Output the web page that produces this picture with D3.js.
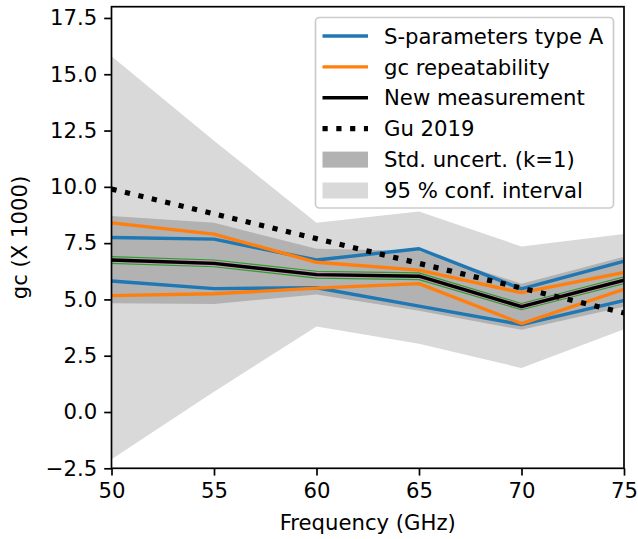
<!DOCTYPE html>
<html><head><meta charset="utf-8">
<script src="https://cdn.jsdelivr.net/npm/d3@7"></script>
<style>body{margin:0;background:#fff}svg{display:block}text{font-family:"DejaVu Sans",sans-serif}</style>
</head><body>
<svg id="c" width="638" height="539"></svg>
<script>
const freqs = [50, 55, 60, 65, 70, 75];
const conf95Upper = [15.8, 12.05, 8.4, 8.9, 7.35, 7.9];
const conf95Lower = [-2.1, 0.9, 3.8, 3.03, 1.95, 3.68];
const stdUpper = [8.7, 8.4, 7.25, 7.15, 5.7, 6.9];
const stdLower = [4.83, 4.8, 5.22, 4.5, 3.65, 4.68];
const sparUpper = [7.75, 7.68, 6.75, 7.25, 5.47, 6.7];
const sparLower = [5.82, 5.48, 5.52, 4.7, 3.88, 4.95];
const repUpper = [8.4, 7.9, 6.65, 6.3, 5.3, 6.2];
const repLower = [5.17, 5.25, 5.5, 5.7, 3.93, 5.45];
const greenUpper = [6.9, 6.75, 6.25, 6.18, 4.82, 6.0];
const greenLower = [6.6, 6.45, 5.95, 5.88, 4.54, 5.7];
const newMeas = [6.75, 6.6, 6.1, 6.03, 4.68, 5.85];
const gu2019 = [9.9, 8.8, 7.7, 6.6, 5.5, 4.4];
const xTicks = [50, 55, 60, 65, 70, 75];
const yTicks = [-2.5, 0, 2.5, 5, 7.5, 10, 12.5, 15, 17.5];
const legendLabels = ["S-parameters type A", "gc repeatability", "New measurement", "Gu 2019", "Std. uncert. (k=1)", "95 % conf. interval"];

const svg = d3.select("#c");
const L = 111.5, R = 624, T = 6.7, B = 468.3;
const x = d3.scaleLinear().domain([50, 75]).range([L, R]);
const y = d3.scaleLinear().domain([-2.5, 18]).range([B, T]);
const fs = 21.2;

svg.append("defs").append("clipPath").attr("id", "clip")
  .append("rect").attr("x", L).attr("y", T).attr("width", R - L).attr("height", B - T);
const g = svg.append("g").attr("clip-path", "url(#clip)");

const area = (up, lo) => d3.area().x((d, i) => x(freqs[i])).y0((d, i) => y(lo[i])).y1((d, i) => y(up[i]))(up);
const line = vals => d3.line().x((d, i) => x(freqs[i])).y(d => y(d))(vals);

g.append("path").attr("d", area(conf95Upper, conf95Lower)).attr("fill", "#d9d9d9");
g.append("path").attr("d", area(stdUpper, stdLower)).attr("fill", "#b2b2b2");

function ln(vals, color, w, dash) {
  const p = g.append("path").attr("d", line(vals)).attr("fill", "none")
    .attr("stroke", color).attr("stroke-width", w).attr("stroke-linejoin", "round").attr("stroke-linecap", dash ? "butt" : "square");
  if (dash) p.attr("stroke-dasharray", dash);
}
ln(sparUpper, "#1f77b4", 3.4);
ln(sparLower, "#1f77b4", 3.4);
ln(repUpper, "#ff7f0e", 3.4);
ln(repLower, "#ff7f0e", 3.4);
ln(greenUpper, "#2ca02c", 1.2);
ln(greenLower, "#2ca02c", 1.2);
ln(newMeas, "#e377c2", 4.2);
ln(newMeas, "#000000", 3.4);
ln(gu2019, "#000000", 5.2, "5.2,8.6");

// axes
const tl = 7.3;
const xAxis = svg.append("g").attr("transform", `translate(0,${B})`)
  .call(d3.axisBottom(x).tickValues(xTicks).tickFormat(d3.format("d")).tickSize(tl).tickPadding(7));
const yAxis = svg.append("g").attr("transform", `translate(${L},0)`)
  .call(d3.axisLeft(y).tickValues(yTicks).tickFormat(d => d3.format(".1f")(d).replace("-", "\u2212")).tickSize(tl).tickPadding(7));
[xAxis, yAxis].forEach(a => {
  a.select(".domain").remove();
  a.selectAll(".tick line").attr("stroke", "#000").attr("stroke-width", 1.7);
  a.selectAll(".tick text").attr("font-size", fs).attr("fill", "#000").attr("font-family", "DejaVu Sans");
});
svg.append("rect").attr("x", L).attr("y", T).attr("width", R - L).attr("height", B - T)
  .attr("fill", "none").attr("stroke", "#000").attr("stroke-width", 1.7);

svg.append("text").attr("x", (L + R) / 2).attr("y", 530).attr("text-anchor", "middle")
  .attr("font-size", fs).text("Frequency (GHz)");
svg.append("text").attr("transform", `translate(27,${(T + B) / 2}) rotate(-90)`).attr("text-anchor", "middle")
  .attr("font-size", fs).text("gc (X 1000)");

// legend
const lg = svg.append("g");
lg.append("rect").attr("x", 315.5).attr("y", 17.5).attr("width", 298).attr("height", 190.5).attr("rx", 4)
  .attr("fill", "#fff").attr("fill-opacity", 0.8).attr("stroke", "#cccccc").attr("stroke-width", 1.7);
const rowY = i => 36 + i * 30.9;
const hx0 = 322.5, hx1 = 368;
const items = [
  {t: "line", c: "#1f77b4"}, {t: "line", c: "#ff7f0e"}, {t: "line", c: "#000"},
  {t: "dot", c: "#000"}, {t: "patch", c: "#b2b2b2"}, {t: "patch", c: "#d9d9d9"}];
items.forEach((it, i) => {
  const yy = rowY(i);
  if (it.t === "patch") {
    lg.append("rect").attr("x", hx0).attr("y", yy - 8).attr("width", hx1 - hx0).attr("height", 16).attr("fill", it.c);
  } else {
    const l = lg.append("line").attr("x1", hx0).attr("x2", hx1).attr("y1", yy).attr("y2", yy)
      .attr("stroke", it.c).attr("stroke-width", it.t === "dot" ? 5.2 : 3.4);
    if (it.t === "dot") l.attr("stroke-dasharray", "5.2,8.6");
  }
  lg.append("text").attr("x", 384).attr("y", yy).attr("dy", "0.36em").attr("font-size", fs).text(legendLabels[i]);
});
</script>
</body></html>
